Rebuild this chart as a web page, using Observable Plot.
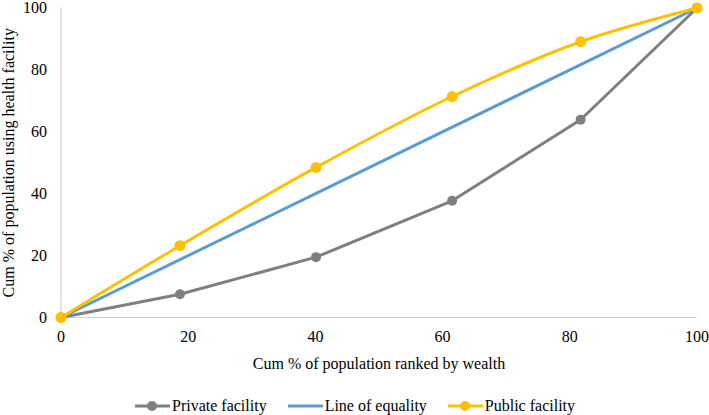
<!DOCTYPE html>
<html>
<head>
<meta charset="utf-8">
<script src="https://cdn.jsdelivr.net/npm/d3@7"></script>
<script src="https://cdn.jsdelivr.net/npm/@observablehq/plot@0.6"></script>
<style>
  html, body { margin: 0; padding: 0; background: #fff; }
  body { width: 709px; font-family: "Liberation Serif", "Times New Roman", Times, "DejaVu Serif", serif; }
  #legend { display: flex; justify-content: flex-start; align-items: center; padding-left: 135px; margin-top: 13px; height: 30px; font-size: 16px; color: #000; }
  .item { display: flex; align-items: center; margin-right: 21px; }
  .item svg { margin-right: 2px; }
  #chart svg text { font-family: "Liberation Serif", "Times New Roman", Times, "DejaVu Serif", serif; }
</style>
</head>
<body>
<div id="chart"></div>
<div id="legend"></div>
<script>
const xTicks = [0, 20, 40, 60, 80, 100];
const yTicks = [0, 20, 40, 60, 80, 100];
const popX = [0, 18.7, 40.1, 61.5, 81.7, 100];
const privateFac = [0, 7.5, 19.5, 37.7, 63.9, 100];
const publicFac = [0, 23.2, 48.5, 71.4, 89.1, 100];
const equalityX = [0, 100];
const equalityY = [0, 100];
const seriesNames = ["Private facility", "Line of equality", "Public facility"];
const seriesColors = ["#7f7f7f", "#5b9bd5", "#ffc000"];

const priv = popX.map((x, i) => ({x, y: privateFac[i]}));
const pub = popX.map((x, i) => ({x, y: publicFac[i]}));
const eq = equalityX.map((x, i) => ({x, y: equalityY[i]}));

const serif = "'Liberation Serif', 'Times New Roman', Times, 'DejaVu Serif', serif";

const chart = Plot.plot({
  width: 709,
  height: 378,
  marginLeft: 60.5,
  marginRight: 12.5,
  marginTop: 7.5,
  marginBottom: 61,
  style: {fontFamily: serif, fontSize: "16px", color: "#000", background: "#fff", overflow: "visible"},
  x: {domain: [0, 100]},
  y: {domain: [0, 100]},
  marks: [
    Plot.ruleY([0], {stroke: "#d0d0d0", strokeWidth: 1.2}),
    Plot.ruleX([0], {stroke: "#d0d0d0", strokeWidth: 1.2}),
    Plot.axisX({ticks: xTicks, tickSize: 0, tickPadding: 13, fontSize: 16, fontFamily: serif, label: "Cum % of population ranked by wealth", labelAnchor: "center", labelArrow: "none", labelOffset: 51}),
    Plot.axisY({ticks: yTicks, tickSize: 0, tickPadding: 14, fontSize: 16, fontFamily: serif, label: "Cum % of population using health facility", labelAnchor: "center", labelArrow: "none", labelOffset: 58}),
    Plot.line(priv, {x: "x", y: "y", stroke: seriesColors[0], strokeWidth: 3}),
    Plot.dot(priv, {x: "x", y: "y", fill: seriesColors[0], r: 5}),
    Plot.line(eq, {x: "x", y: "y", stroke: seriesColors[1], strokeWidth: 3}),
    Plot.line(pub, {x: "x", y: "y", stroke: seriesColors[2], strokeWidth: 3, curve: "catmull-rom"}),
    Plot.dot(pub, {x: "x", y: "y", fill: seriesColors[2], r: 5.5})
  ]
});
document.getElementById("chart").appendChild(chart);

const legend = document.getElementById("legend");
seriesNames.forEach((name, i) => {
  const item = document.createElement("div");
  item.className = "item";
  const marker = i === 1 ? "" : `<circle cx="17" cy="8" r="5" fill="${seriesColors[i]}"/>`;
  item.innerHTML = `<svg width="35" height="16"><line x1="0" y1="8" x2="35" y2="8" stroke="${seriesColors[i]}" stroke-width="3"/>${marker}</svg><span>${name}</span>`;
  legend.appendChild(item);
});
</script>
</body>
</html>
